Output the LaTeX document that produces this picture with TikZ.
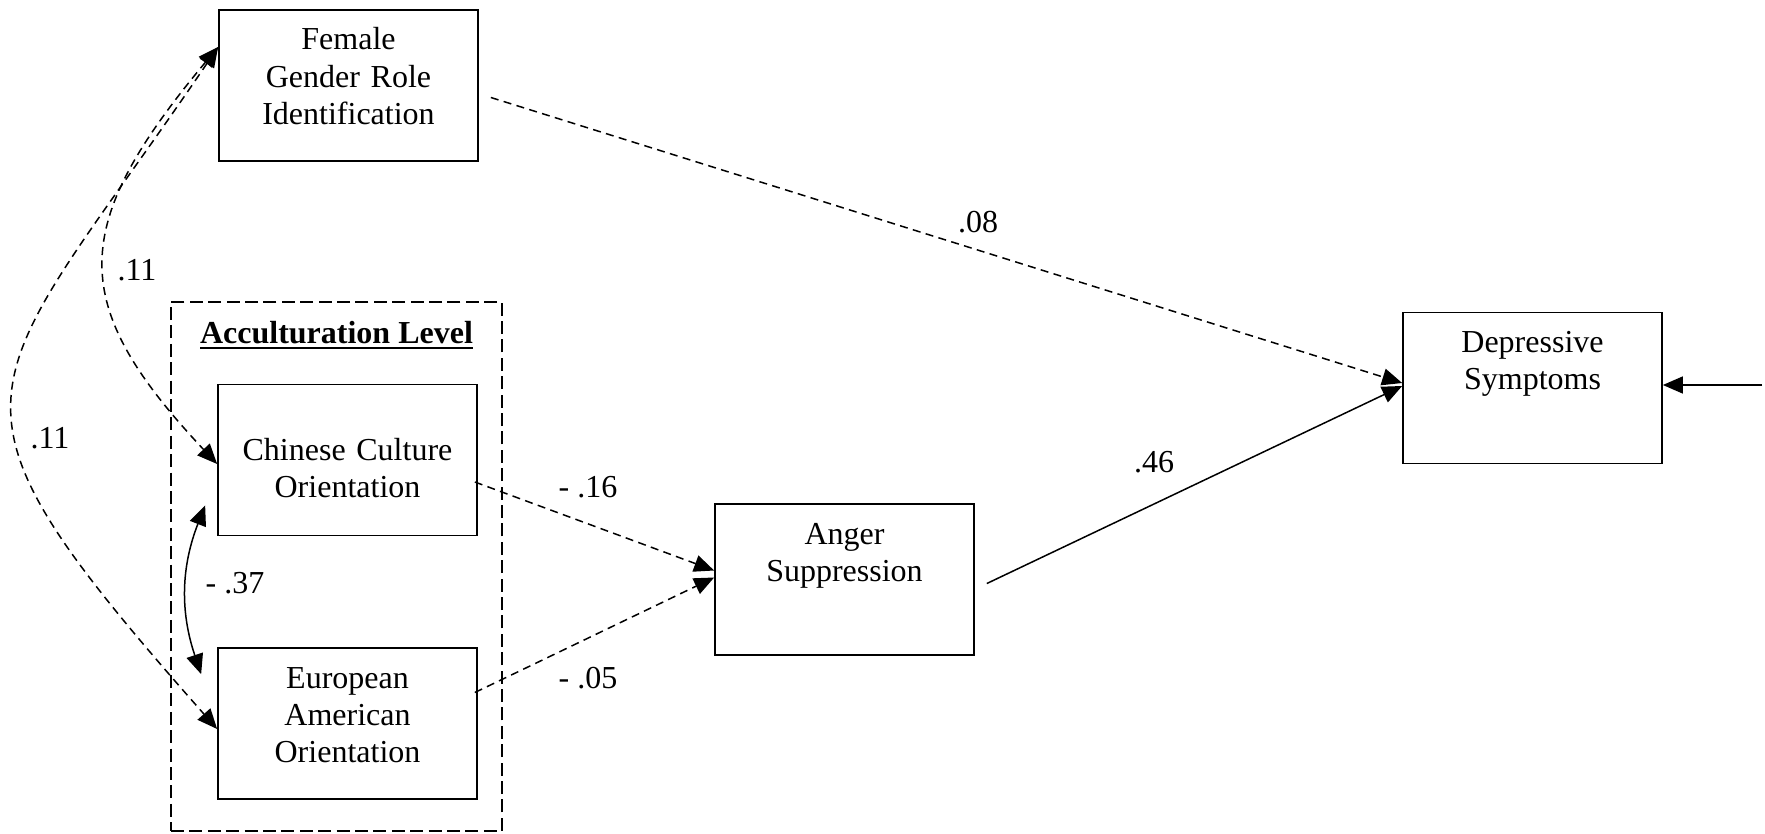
\documentclass[tikz,border=0pt]{standalone}
\usepackage{fontspec}
\setmainfont{Liberation Serif}
\usetikzlibrary{arrows.meta}
\newcommand{\ulbf}[1]{\setbox0\hbox{\bfseries #1}\rlap{\rule[-3pt]{\wd0}{1pt}}\box0}

\begin{document}
\begin{tikzpicture}[x=0.5pt,y=-0.5pt,
    font=\fontsize{16}{18.6}\selectfont,
    >={Triangle[length=10pt,width=8.5pt]},
    var/.style={draw,line width=0.85pt,text width=129.5pt,align=center,inner sep=0pt,
      text height=20pt,text depth=55.5pt},
    dashpath/.style={line width=0.75pt,dash pattern=on 4pt off 2.7pt}]
  \useasboundingbox (0,0) rectangle (1765,834);
  \node[var] (fem) at (348.5,85.5) {Female\\Gender Role\\Identification};
  \node[draw,line width=0.9pt,dash pattern=on 6.5pt off 2.7pt,
    minimum width=165.5pt,minimum height=264.5pt] (grp) at (336.5,566.5) {};
  \node[anchor=base] (acc) at (336.5,343) {\ulbf{Acculturation Level}};
  \node[var,text height=38pt,text depth=37.5pt] (chin) at (347.5,460) {Chinese Culture\\Orientation};
  \node[var] (euro) at (347.5,723.5) {European\\American\\Orientation};
  \node[var] (ang) at (844.5,579.5) {Anger\\Suppression};
  \node[var] (dep) at (1532.5,388) {Depressive\\Symptoms};
  \coordinate (err) at (1762,385);
  % path weights
  \node (w08) at (978,222) {.08};
  \node (w46) at (1154,462) {.46};
  \node (w16) at (588,487) {- .16};
  \node (w05) at (588,678) {- .05};
  \node (w37) at (235,583) {- .37};
  \node (w11a) at (137,270) {.11};
  \node (w11b) at (50,438) {.11};
  \path[->]
    ([shift={(12,12)}]fem.east) edge[dashpath] ([shift={(0,-5)}]dep.west)
    ([shift={(12,4)}]ang.east) edge[line width=0.75pt] ([shift={(0,-2)}]dep.west)
    ([shift={(-3,22)}]chin.east) edge[dashpath] ([shift={(0,-9)}]ang.west)
    ([shift={(-3,-31)}]euro.east) edge[dashpath] ([shift={(0,-2)}]ang.west)
    (err) edge[line width=0.75pt] (err -| dep.east);
  \draw[<->,dashpath] ([shift={(0,-38.5)}]fem.west)
    .. controls +(-150,180) and +(-150,-160) .. ([shift={(0,4)}]chin.west);
  \draw[<->,dashpath] ([shift={(0,-38.5)}]fem.west)
    .. controls +(-240,353) and +(-302,-342) .. ([shift={(0,5.5)}]euro.west);
  \draw[<->,line width=0.75pt] ([shift={(-12,-31)}]chin.south west)
    to[bend right=20] ([shift={(-16,27)}]euro.north west);
\end{tikzpicture}
\end{document}
